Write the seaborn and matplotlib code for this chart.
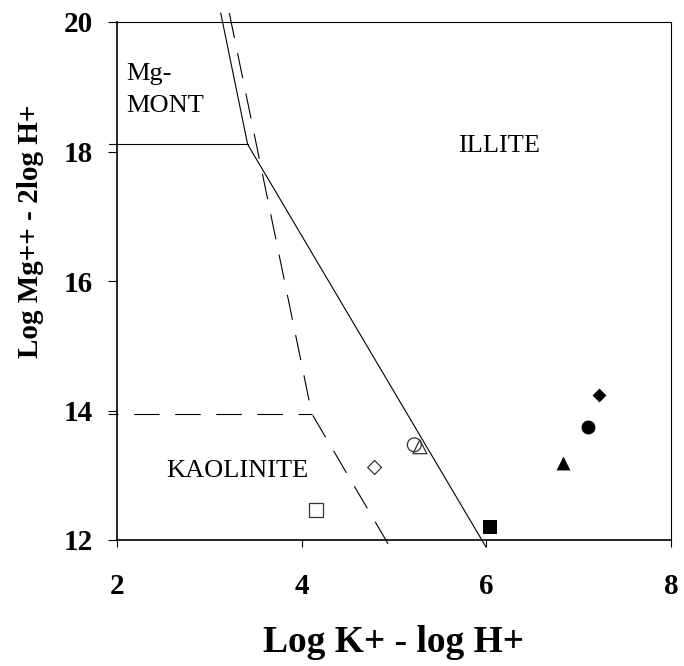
import matplotlib
matplotlib.use("Agg")
import matplotlib.pyplot as plt
import seaborn as sns
import pandas as pd

# ---- data ----
# solid boundary (Mg-montmorillonite / kaolinite vs illite)
solid_x = [3.123, 3.415, 5.997]
solid_y = [20.14, 18.11, 11.89]
mont_x = [1.913, 3.415]
mont_y = [18.11, 18.11]
# dashed boundary (kaolinite field)
dash_x = [3.216, 4.11, 4.957]
dash_y = [20.14, 13.95, 11.89]
kaol_x = [1.906, 4.11]
kaol_y = [13.95, 13.95]

sample_x = [4.16, 4.79, 5.22, 5.28, 6.04, 6.83, 7.10, 7.22]
sample_y = [12.46, 13.12, 13.47, 13.44, 12.20, 13.19, 13.75, 14.24]
sample_marker = ["s", "D", "o", "^", "s", "^", "o", "D"]
sample_filled = [False, False, False, False, True, True, True, True]

x_ticks = [2, 4, 6, 8]
y_ticks = [12, 14, 16, 18, 20]
x_label = "Log K+ - log H+"
y_label = "Log Mg++ - 2log H+"
field_labels = ["Mg-", "MONT", "ILLITE", "KAOLINITE"]

# ---- style ----
sns.set_theme(style="white")
plt.rcParams["font.family"] = ["Liberation Serif", "DejaVu Serif"]

fig = plt.figure(figsize=(6.84, 6.66), dpi=100)
ax = fig.add_axes([117 / 684, 1 - 540 / 666, 554 / 684, 518 / 666])

lw = 0.8
sns.lineplot(x=solid_x, y=solid_y, sort=False, estimator=None, color="black",
             lw=lw, ax=ax, clip_on=False)
sns.lineplot(x=mont_x, y=mont_y, sort=False, estimator=None, color="black",
             lw=lw, ax=ax, clip_on=False)
sns.lineplot(x=dash_x, y=dash_y, sort=False, estimator=None, color="black",
             lw=lw, ax=ax, clip_on=False, linestyle=(0, (23, 14)))
sns.lineplot(x=kaol_x, y=kaol_y, sort=False, estimator=None, color="black",
             lw=lw, ax=ax, clip_on=False, linestyle=(14, (23, 14)))

for xv, yv, m, f in zip(sample_x, sample_y, sample_marker, sample_filled):
    s = 50 if m == "D" else 100
    if f:
        sns.scatterplot(x=[xv], y=[yv], marker=m, s=s, color="black",
                        edgecolor="black", linewidth=0, ax=ax, zorder=5)
    else:
        sns.scatterplot(x=[xv], y=[yv], marker=m, s=s, facecolor="none",
                        edgecolor="#333333", linewidth=0.9, ax=ax, zorder=5)

ax.set_xlim(2, 8)
ax.set_ylim(12, 20)
ax.set_xticks(x_ticks)
ax.set_yticks(y_ticks)
ax.set_xticklabels([str(t) for t in x_ticks], fontsize=21, fontweight="bold")
ax.set_yticklabels([str(t) for t in y_ticks], fontsize=21, fontweight="bold")
ax.tick_params(axis="y", direction="out", length=6.5, width=0.8, pad=11,
               left=True, colors="black")
ax.tick_params(axis="x", direction="out", length=5, width=0.8, pad=19,
               bottom=True, colors="black")

for sp in ax.spines.values():
    sp.set_visible(True)
    sp.set_color("black")
    sp.set_linewidth(0.8)
ax.spines["left"].set_linewidth(1.2)
ax.spines["bottom"].set_linewidth(1.2)

ax.set_xlabel(x_label, fontsize=27, fontweight="bold", color="black")
ax.set_ylabel(y_label, fontsize=21, fontweight="bold", color="black")
ax.xaxis.set_label_coords(0.5, -0.165)
ax.yaxis.set_label_coords(-0.132, 0.595)

tk = dict(fontsize=19, color="black")
ax.text(2.105, 19.10, field_labels[0], ha="left", va="baseline", **tk)
ax.text(2.105, 18.61, field_labels[1], ha="left", va="baseline", **tk)
ax.text(6.14, 18.0, field_labels[2], ha="center", va="baseline", **tk)
ax.text(3.30, 12.97, field_labels[3], ha="center", va="baseline", **tk)

fig.savefig("out.png", dpi=100)
